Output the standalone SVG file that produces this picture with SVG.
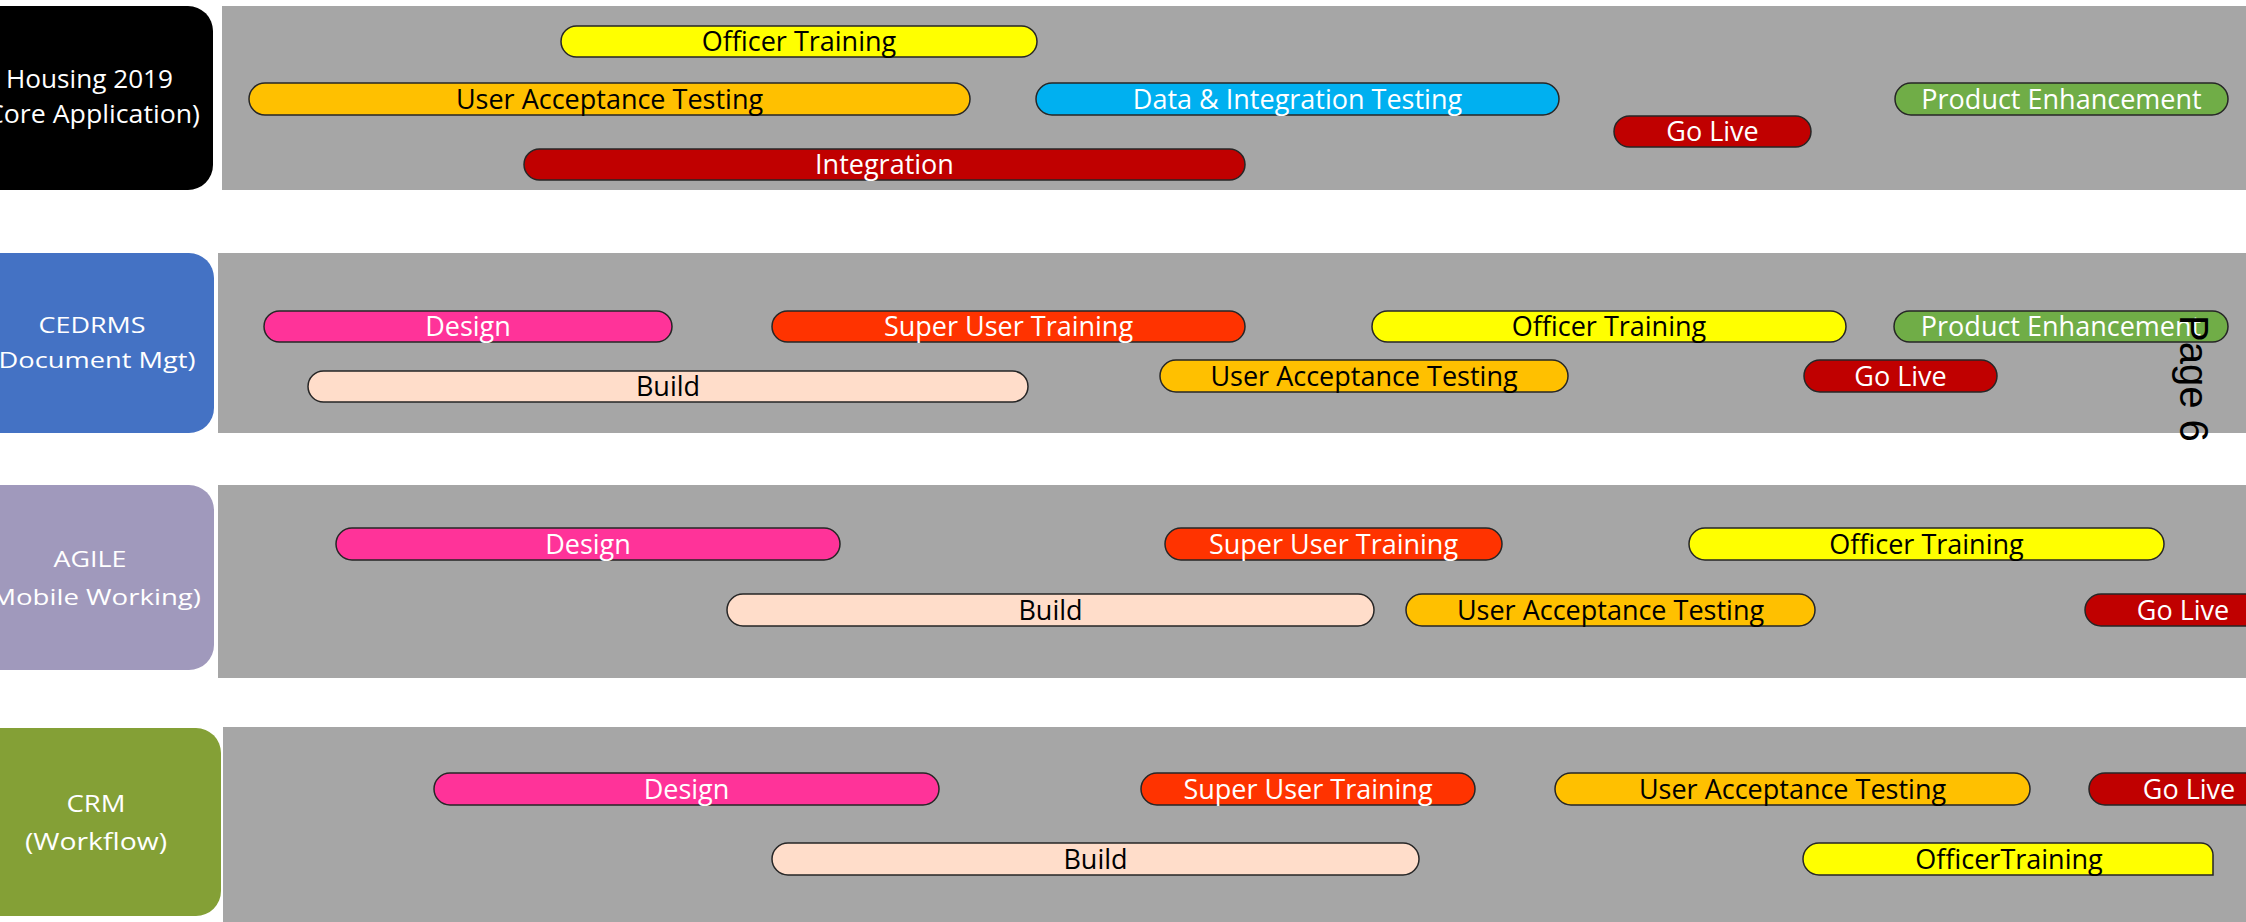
<svg xmlns="http://www.w3.org/2000/svg" width="2246" height="922" viewBox="0 0 2246 922">
<style>
.panel{fill:#A6A6A6}
.bar{stroke:#262626;stroke-width:1.5}
.t{font-family:"Open Sans","Liberation Sans",sans-serif;font-size:27px;text-anchor:middle}
.w{fill:#FFFFFF}
.k{fill:#000000}
.lab{font-family:"Open Sans","Liberation Sans",sans-serif;fill:#FFFFFF;text-anchor:middle}
.yel{fill:#FFFF00}.uat{fill:#FFC000}.dit{fill:#00B0F0}.red{fill:#C00000}.pe{fill:#70AD47}
.des{fill:#FF3399}.sut{fill:#FF3300}.bld{fill:#FFDDCA}
</style>
<rect width="2246" height="922" fill="#FFFFFF"/>

<!-- Row 1: Housing 2019 -->
<g id="housing">
<rect x="-40" y="6" width="253" height="184" rx="25" fill="#000000"/>
<text class="lab" font-size="25" x="89.5" y="88" textLength="167" lengthAdjust="spacingAndGlyphs">Housing 2019</text>
<text class="lab" font-size="25" x="89.5" y="123" textLength="221" lengthAdjust="spacingAndGlyphs">(Core Application)</text>
</g>
<g id="housing-panel"><rect class="panel" x="222" y="6" width="2024" height="184"/></g>
<g id="h-officer-training"><rect class="bar yel" x="561" y="26" width="476" height="31" rx="15.5"/><text class="t k" x="799" y="51">Officer Training</text></g>
<g id="h-uat"><rect class="bar uat" x="249" y="83" width="721" height="32" rx="16"/><text class="t k" x="609.5" y="108.5">User Acceptance Testing</text></g>
<g id="h-data-integration"><rect class="bar dit" x="1036" y="83" width="523" height="32" rx="16"/><text class="t w" x="1297.5" y="108.5">Data &amp; Integration Testing</text></g>
<g id="h-go-live"><rect class="bar red" x="1614" y="116" width="197" height="31" rx="15.5"/><text class="t w" x="1712.5" y="141">Go Live</text></g>
<g id="h-product-enhancement"><rect class="bar pe" x="1895" y="83" width="333" height="32" rx="16"/><text class="t w" x="2061.5" y="108.5">Product Enhancement</text></g>
<g id="h-integration"><rect class="bar red" x="524" y="149" width="721" height="31" rx="15.5"/><text class="t w" x="884.5" y="174">Integration</text></g>

<!-- Row 2: CEDRMS -->
<g id="cedrms">
<rect x="-40" y="253" width="254" height="180" rx="25" fill="#4472C4"/>
<text class="lab" font-size="22" x="92" y="333" textLength="107" lengthAdjust="spacingAndGlyphs">CEDRMS</text>
<text class="lab" font-size="22" x="93" y="368" textLength="205" lengthAdjust="spacingAndGlyphs">(Document Mgt)</text>
</g>
<g id="cedrms-panel"><rect class="panel" x="218" y="253" width="2028" height="180"/></g>
<g id="c-design"><rect class="bar des" x="264" y="311" width="408" height="31" rx="15.5"/><text class="t w" x="468" y="336">Design</text></g>
<g id="c-super-user"><rect class="bar sut" x="772" y="311" width="473" height="31" rx="15.5"/><text class="t w" x="1008.5" y="336">Super User Training</text></g>
<g id="c-officer-training"><rect class="bar yel" x="1372" y="311" width="474" height="31" rx="15.5"/><text class="t k" x="1609" y="336">Officer Training</text></g>
<g id="c-product-enhancement"><rect class="bar pe" x="1894" y="311" width="334" height="31" rx="15.5"/><text class="t w" x="2061" y="336">Product Enhancement</text></g>
<g id="c-build"><rect class="bar bld" x="308" y="371" width="720" height="31" rx="15.5"/><text class="t k" x="668" y="396">Build</text></g>
<g id="c-uat"><rect class="bar uat" x="1160" y="360" width="408" height="32" rx="16"/><text class="t k" x="1364" y="385.5">User Acceptance Testing</text></g>
<g id="c-go-live"><rect class="bar red" x="1804" y="360" width="193" height="32" rx="16"/><text class="t w" x="1900.5" y="385.5">Go Live</text></g>

<!-- Row 3: AGILE -->
<g id="agile">
<rect x="-40" y="485" width="254" height="185" rx="25" fill="#A099BC"/>
<text class="lab" font-size="22" x="90" y="567" textLength="73" lengthAdjust="spacingAndGlyphs">AGILE</text>
<text class="lab" font-size="22" x="92" y="605" textLength="218" lengthAdjust="spacingAndGlyphs">(Mobile Working)</text>
</g>
<g id="agile-panel"><rect class="panel" x="218" y="485" width="2028" height="193"/></g>
<g id="a-design"><rect class="bar des" x="336" y="528" width="504" height="32" rx="16"/><text class="t w" x="588" y="553.5">Design</text></g>
<g id="a-super-user"><rect class="bar sut" x="1165" y="528" width="337" height="32" rx="16"/><text class="t w" x="1333.5" y="553.5">Super User Training</text></g>
<g id="a-officer-training"><rect class="bar yel" x="1689" y="528" width="475" height="32" rx="16"/><text class="t k" x="1926.5" y="553.5">Officer Training</text></g>
<g id="a-build"><rect class="bar bld" x="727" y="594" width="647" height="32" rx="16"/><text class="t k" x="1050.5" y="619.5">Build</text></g>
<g id="a-uat"><rect class="bar uat" x="1406" y="594" width="409" height="32" rx="16"/><text class="t k" x="1610.5" y="619.5">User Acceptance Testing</text></g>
<g id="a-go-live"><rect class="bar red" x="2085" y="594" width="196" height="32" rx="16"/><text class="t w" x="2183" y="619.5">Go Live</text></g>

<!-- Row 4: CRM -->
<g id="crm">
<rect x="-40" y="728" width="261" height="188" rx="25" fill="#84A036"/>
<text class="lab" font-size="24" x="96" y="812" textLength="59" lengthAdjust="spacingAndGlyphs">CRM</text>
<text class="lab" font-size="24" x="96" y="850" textLength="142" lengthAdjust="spacingAndGlyphs">(Workflow)</text>
</g>
<g id="crm-panel"><rect class="panel" x="223" y="727" width="2023" height="200"/></g>
<g id="r-design"><rect class="bar des" x="434" y="773" width="505" height="32" rx="16"/><text class="t w" x="686.5" y="798.5">Design</text></g>
<g id="r-super-user"><rect class="bar sut" x="1141" y="773" width="334" height="32" rx="16"/><text class="t w" x="1308" y="798.5">Super User Training</text></g>
<g id="r-uat"><rect class="bar uat" x="1555" y="773" width="475" height="32" rx="16"/><text class="t k" x="1792.5" y="798.5">User Acceptance Testing</text></g>
<g id="r-go-live"><rect class="bar red" x="2089" y="773" width="200" height="32" rx="16"/><text class="t w" x="2189" y="798.5">Go Live</text></g>
<g id="r-build"><rect class="bar bld" x="772" y="843" width="647" height="32" rx="16"/><text class="t k" x="1095.5" y="868.5">Build</text></g>
<g id="r-officer-training"><path class="bar yel" d="M1819,843 H2201 A12,12 0 0 1 2213,855 V875 H1819 A16,16 0 0 1 1819,843 Z"/><text class="t k" x="2009" y="868.5">OfficerTraining</text></g>

<g id="page-number"><text transform="translate(2180,315) rotate(90)" font-family="Liberation Sans, Arial, sans-serif" font-size="40" fill="#000000">Page 6</text></g>
</svg>
